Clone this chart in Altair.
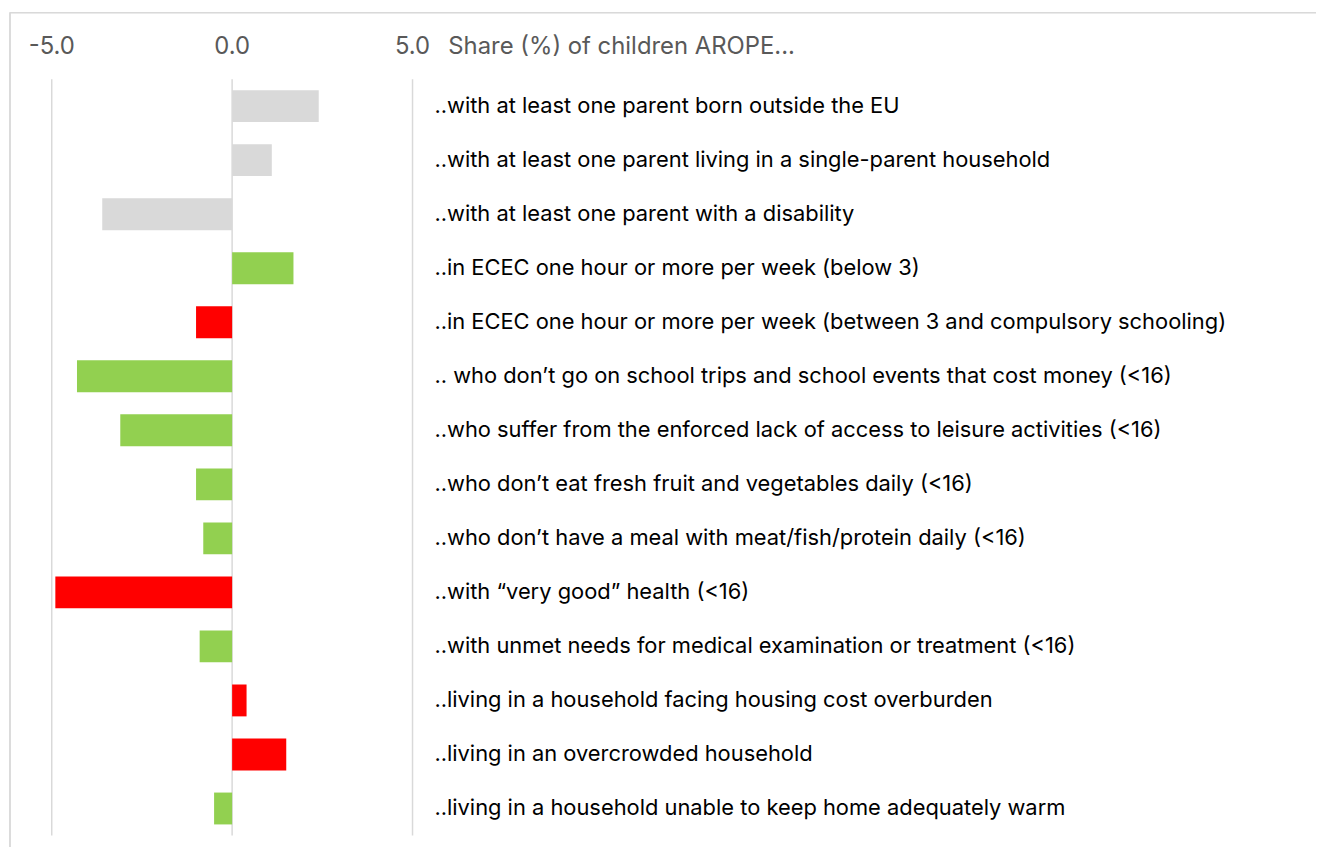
import altair as alt
import pandas as pd

categories = [
    "..with at least one parent born outside the EU",
    "..with at least one parent living in a single-parent household",
    "..with at least one parent with a disability",
    "..in ECEC one hour or more per week (below 3)",
    "..in ECEC one hour or more per week (between 3 and compulsory schooling)",
    ".. who don\u2019t go on school trips and school events that cost money  (<16)",
    "..who suffer from the enforced lack of access to leisure activities (<16)",
    "..who don\u2019t eat fresh fruit and vegetables daily (<16)",
    "..who don\u2019t have a meal with meat/fish/protein daily (<16)",
    "..with \u201cvery good\u201d health (<16)",
    "..with unmet needs for medical examination or treatment (<16)",
    "..living in a household facing housing cost overburden",
    "..living in an overcrowded household",
    "..living in a household unable to keep home adequately warm",
]
values = [2.4, 1.1, -3.6, 1.7, -1.0, -4.3, -3.1, -1.0, -0.8, -4.9, -0.9, 0.4, 1.5, -0.5]
assessment = ["context", "context", "context", "favourable", "unfavourable",
              "favourable", "favourable", "favourable", "favourable", "unfavourable",
              "favourable", "unfavourable", "unfavourable", "favourable"]
tick_values = [-5.0, 0.0, 5.0]
tick_labels = ["-5.0", "0.0", "5.0"]
header = "Share (%) of children AROPE..."

df = pd.DataFrame({"cat": categories, "value": values, "assess": assessment})
ticks = pd.DataFrame({"v": tick_values, "label": tick_labels})

W, H = 363, 761
FONT = "Inter"

xscale = alt.Scale(domain=[-5, 5], nice=False, zero=False)
yscale = alt.Scale(domain=categories, paddingInner=0.41, paddingOuter=0.205)

grid = alt.Chart(ticks).mark_rule(color="#d9d9d9", strokeWidth=1.5).encode(
    x=alt.X("v:Q", scale=xscale, axis=None),
    y=alt.value(0), y2=alt.value(H),
)

tick_text = alt.Chart(ticks).mark_text(
    font=FONT, fontSize=24, color="#595959", align="center", baseline="alphabetic"
).encode(
    x=alt.X("v:Q", scale=xscale, axis=None),
    y=alt.value(-25),
    text="label:N",
)

header_text = alt.Chart(pd.DataFrame({"t": [header]})).mark_text(
    font=FONT, fontSize=24, color="#595959", align="left", baseline="alphabetic"
).encode(x=alt.value(399), y=alt.value(-25), text="t:N")

bars = alt.Chart(df).mark_bar().encode(
    x=alt.X("value:Q", scale=xscale, axis=None),
    x2=alt.datum(0),
    y=alt.Y("cat:N", scale=yscale, axis=None, sort=categories),
    color=alt.Color("assess:N", legend=None,
                    scale=alt.Scale(domain=["context", "favourable", "unfavourable"],
                                    range=["#d9d9d9", "#92d050", "#ff0000"])),
)

labels = alt.Chart(df).mark_text(
    font=FONT, fontSize=22, color="#000000", align="left", baseline="middle"
).encode(
    x=alt.value(385),
    y=alt.Y("cat:N", scale=yscale, axis=None, sort=categories),
    text="cat:N",
)

frame_top = alt.Chart(ticks).mark_rule(color="#d9d9d9", strokeWidth=1.2).encode(
    x=alt.value(-42), x2=alt.value(1400), y=alt.value(-67)
)
frame_left = alt.Chart(ticks).mark_rule(color="#d9d9d9", strokeWidth=1.2).encode(
    x=alt.value(-42), y=alt.value(-67), y2=alt.value(900)
)

chart = alt.layer(frame_top, frame_left, grid, bars, tick_text, header_text, labels).properties(
    width=W, height=H,
    autosize=alt.AutoSizeParams(type="none"),
    padding={"left": 44, "top": 69, "right": 909, "bottom": 9},
).configure(
    background="white",
    view=alt.ViewConfig(strokeWidth=0, stroke="transparent"),
)

chart.save("out.html", embed_options={"renderer": "svg", "actions": False})
